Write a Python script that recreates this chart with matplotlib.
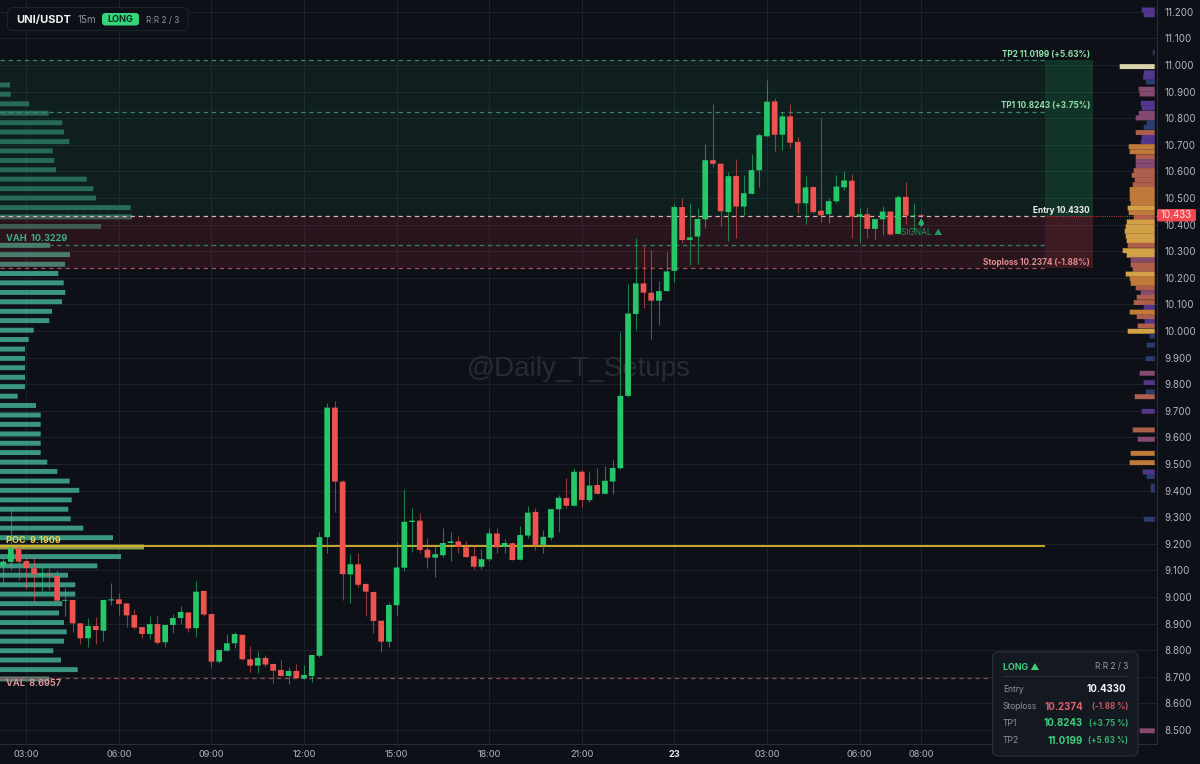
"""UNI/USDT 15m long setup with volume profiles on both sides."""
import matplotlib
matplotlib.use('Agg')
import matplotlib.pyplot as plt
from matplotlib.patches import FancyBboxPatch

# Levels
ENTRY = 10.4330
STOPLOSS = 10.2374
TP1 = 10.8243
TP2 = 11.0199
VAH = 10.3229
POC = 9.1909
VAL = 8.6957
LAST_PRICE = 10.433

# Candles, 15 minute bars. Time is hours since 00:00 on the first day
first_bar_hour = 2.25
bar_hours = 0.25
opens = [
    9.116, 9.132, 9.183, 9.135, 9.108, 9.081, 9.083, 9.079, 8.986, 8.989,
    8.901, 8.845, 8.891, 8.873, 8.987, 8.991, 8.976, 8.932, 8.887, 8.861,
    8.898, 8.830, 8.895, 8.921, 8.942, 8.883, 9.023, 8.936, 8.757, 8.798,
    8.826, 8.858, 8.766, 8.742, 8.771, 8.748, 8.726, 8.703, 8.722, 8.694,
    8.703, 8.779, 9.225, 9.712, 9.434, 9.085, 9.123, 9.049, 9.019, 8.911,
    8.832, 8.969, 9.110, 9.282, 9.287, 9.178, 9.148, 9.157, 9.203, 9.209,
    9.187, 9.153, 9.114, 9.142, 9.239, 9.188, 9.202, 9.140, 9.231, 9.320,
    9.196, 9.223, 9.330, 9.372, 9.343, 9.471, 9.364, 9.421, 9.388, 9.434,
    9.484, 9.756, 10.064, 10.179, 10.144, 10.114, 10.150, 10.226, 10.466, 10.342,
    10.355, 10.420, 10.642, 10.629, 10.447, 10.583, 10.468, 10.516, 10.604, 10.732,
    10.863, 10.738, 10.807, 10.711, 10.480, 10.541, 10.452, 10.439, 10.488, 10.540,
    10.565, 10.429, 10.439, 10.384, 10.420, 10.449, 10.365, 10.504, 10.432, 10.436,
]
highs = [
    9.152, 9.327, 9.202, 9.145, 9.145, 9.114, 9.108, 9.101, 9.033, 8.989,
    8.901, 8.920, 8.926, 8.989, 9.051, 9.014, 8.976, 8.954, 8.888, 8.929,
    8.929, 8.895, 8.936, 8.966, 8.942, 9.061, 9.023, 8.936, 8.801, 8.861,
    8.867, 8.858, 8.816, 8.798, 8.781, 8.751, 8.763, 8.738, 8.747, 8.746,
    8.782, 9.246, 9.728, 9.737, 9.440, 9.162, 9.167, 9.054, 9.019, 8.911,
    8.982, 9.208, 9.405, 9.333, 9.317, 9.221, 9.192, 9.258, 9.244, 9.229,
    9.209, 9.197, 9.182, 9.259, 9.258, 9.217, 9.208, 9.267, 9.342, 9.333,
    9.252, 9.330, 9.383, 9.446, 9.484, 9.477, 9.471, 9.486, 9.492, 9.515,
    9.996, 10.177, 10.348, 10.320, 10.305, 10.188, 10.298, 10.478, 10.499, 10.483,
    10.461, 10.702, 10.852, 10.629, 10.599, 10.645, 10.586, 10.665, 10.746, 10.944,
    10.875, 10.825, 10.852, 10.728, 10.584, 10.545, 10.799, 10.501, 10.586, 10.602,
    10.589, 10.461, 10.465, 10.421, 10.470, 10.449, 10.511, 10.561, 10.482, 10.442,
]
lows = [
    9.051, 9.101, 9.064, 9.029, 8.982, 9.023, 9.026, 8.986, 8.929, 8.870,
    8.822, 8.811, 8.823, 8.835, 8.970, 8.932, 8.886, 8.878, 8.845, 8.841,
    8.823, 8.813, 8.863, 8.898, 8.868, 8.851, 8.929, 8.738, 8.753, 8.798,
    8.807, 8.763, 8.717, 8.713, 8.736, 8.675, 8.703, 8.673, 8.695, 8.690,
    8.679, 8.773, 9.167, 9.321, 8.989, 8.976, 9.036, 8.929, 8.866, 8.794,
    8.811, 8.932, 9.099, 9.170, 9.167, 9.110, 9.074, 9.149, 9.137, 9.167,
    9.149, 9.104, 9.104, 9.137, 9.164, 9.164, 9.139, 9.139, 9.221, 9.177,
    9.167, 9.214, 9.244, 9.336, 9.343, 9.337, 9.358, 9.386, 9.388, 9.387,
    9.480, 9.753, 10.004, 10.085, 9.969, 10.023, 10.150, 10.186, 10.332, 10.248,
    10.252, 10.386, 10.615, 10.396, 10.338, 10.350, 10.436, 10.516, 10.543, 10.732,
    10.678, 10.680, 10.689, 10.442, 10.402, 10.445, 10.409, 10.405, 10.480, 10.530,
    10.348, 10.330, 10.351, 10.345, 10.361, 10.361, 10.365, 10.402, 10.377, 10.430,
]
closes = [
    9.133, 9.183, 9.133, 9.110, 9.086, 9.086, 9.080, 8.986, 8.989, 8.901,
    8.845, 8.891, 8.876, 8.989, 8.991, 8.974, 8.931, 8.885, 8.861, 8.898,
    8.828, 8.895, 8.921, 8.944, 8.882, 9.020, 8.934, 8.757, 8.801, 8.826,
    8.861, 8.766, 8.742, 8.771, 8.746, 8.723, 8.703, 8.722, 8.695, 8.707,
    8.782, 9.225, 9.712, 9.434, 9.086, 9.123, 9.046, 9.020, 8.910, 8.832,
    8.970, 9.111, 9.283, 9.287, 9.177, 9.148, 9.161, 9.203, 9.209, 9.188,
    9.150, 9.114, 9.142, 9.239, 9.187, 9.203, 9.139, 9.233, 9.317, 9.196,
    9.226, 9.330, 9.373, 9.343, 9.471, 9.365, 9.419, 9.388, 9.437, 9.485,
    9.756, 10.066, 10.179, 10.144, 10.114, 10.150, 10.224, 10.466, 10.342, 10.352,
    10.421, 10.642, 10.629, 10.450, 10.582, 10.468, 10.518, 10.605, 10.736, 10.862,
    10.738, 10.807, 10.708, 10.480, 10.540, 10.447, 10.435, 10.488, 10.543, 10.566,
    10.430, 10.439, 10.384, 10.421, 10.449, 10.363, 10.503, 10.434, 10.434, 10.433,
]

# Left volume profile (bin price, relative volume)
left_prices = [
    10.925, 10.890, 10.854, 10.819, 10.783, 10.748, 10.712, 10.677, 10.641, 10.606,
    10.571, 10.535, 10.500, 10.464, 10.429, 10.393, 10.358, 10.322, 10.287, 10.251,
    10.216, 10.181, 10.145, 10.110, 10.074, 10.039, 10.003, 9.968, 9.932, 9.897,
    9.862, 9.826, 9.791, 9.755, 9.720, 9.684, 9.649, 9.613, 9.578, 9.543,
    9.507, 9.472, 9.436, 9.401, 9.365, 9.330, 9.294, 9.259, 9.223, 9.188,
    9.152, 9.117, 9.082, 9.046, 9.011, 8.975, 8.940, 8.904, 8.869, 8.834,
    8.798, 8.763, 8.727, 8.692,
]
left_volumes = [
    10, 10.7, 29, 48.7, 62.3, 64, 69.3, 52.7, 54.3, 56,
    86.7, 93.3, 96, 130.7, 132, 101, 0, 50, 70, 65,
    58.3, 63.7, 65.3, 62, 52, 49.3, 33.7, 28.7, 25, 25,
    25, 25, 25, 17.7, 36, 40.7, 40.7, 40.7, 40.7, 40.7,
    47.3, 57.3, 69.7, 79.3, 71.7, 68.3, 70.7, 83.3, 113, 144,
    121, 97.3, 68, 75.3, 75.3, 62.3, 59, 64, 66.7, 64,
    53.3, 61, 77.7, 49.3,
]

# Right volume profile (bin price, relative volume, heat level)
right_prices = [
    11.207, 11.189, 11.046, 10.994, 10.971, 10.954, 10.936, 10.909, 10.891, 10.856,
    10.838, 10.818, 10.801, 10.783, 10.766, 10.746, 10.728, 10.710, 10.693, 10.674,
    10.655, 10.638, 10.620, 10.603, 10.585, 10.568, 10.550, 10.532, 10.515, 10.498,
    10.480, 10.462, 10.445, 10.427, 10.410, 10.392, 10.375, 10.357, 10.340, 10.322,
    10.302, 10.285, 10.267, 10.249, 10.232, 10.214, 10.197, 10.179, 10.162, 10.144,
    10.127, 10.107, 10.089, 10.071, 10.054, 10.036, 10.019, 9.999, 9.981, 9.947,
    9.896, 9.841, 9.806, 9.771, 9.753, 9.698, 9.628, 9.593, 9.540, 9.505,
    9.470, 9.453, 9.417, 9.402, 9.292, 8.497,
]
right_volumes = [
    13, 11, 2, 35, 11, 11.5, 9, 16, 15, 14,
    13, 16, 19, 8, 11, 19, 13, 14, 26, 25,
    19, 19, 19, 21, 23, 20, 22, 25, 25, 25,
    24, 27, 26, 21, 28, 29, 30, 29, 28, 27,
    32, 28, 24, 24, 22, 29, 25, 24, 19, 14,
    18, 21, 11, 25, 18, 10, 17, 27, 5, 8,
    9, 15, 11, 9, 20, 13, 22, 17, 24, 25,
    12, 8, 4, 4, 11, 15,
]
right_heat = [
    1, 1, 0, 6, 1, 1, 0, 2, 2, 1,
    1, 2, 2, 0, 0, 3, 1, 1, 4, 4,
    3, 2, 2, 3, 3, 3, 3, 4, 4, 4,
    4, 5, 4, 3, 5, 5, 5, 5, 5, 3,
    5, 5, 2, 3, 3, 5, 4, 4, 3, 2,
    3, 3, 1, 4, 3, 1, 3, 5, 0, 0,
    0, 2, 1, 0, 3, 1, 3, 2, 4, 4,
    1, 0, 0, 0, 0, 2,
]

# Axis ticks
time_ticks = [3, 6, 9, 12, 15, 18, 21, 24, 27, 30, 32]
time_labels = ['03:00', '06:00', '09:00', '12:00', '15:00', '18:00', '21:00', '23',
               '03:00', '06:00', '08:00']
price_ticks = [8.5 + i / 10 for i in range(28)]

# Colours
BG = '#0d1017'
GRID = '#1d212a'
UP = '#26c768'
DOWN = '#ef5350'
HEAT_COLORS = ['#2b3d6e', '#52378c', '#864a70', '#ae5f4c', '#c07a3a', '#d2a046', '#d9d3ab']

WIDTH, HEIGHT = 1200, 764
AXIS_RIGHT, AXIS_BOTTOM = 1157, 744
HOUR_PX = 30.86
HOUR_LEFT = 3 - 26.3 / HOUR_PX
HOUR_RIGHT = 3 + (AXIS_RIGHT - 26.3) / HOUR_PX
PRICE_TOP = 10 + 331 / 266
PRICE_BOTTOM = 10 - (AXIS_BOTTOM - 331) / 266
LEVEL_END = 36       # level lines stop here
ZONE_END = 37.56     # zones stop here

plt.rcParams['font.family'] = ['Inter', 'DejaVu Sans']

fig = plt.figure(figsize=(12, 7.64), dpi=100, facecolor=BG)
pos = [0, (HEIGHT - AXIS_BOTTOM) / HEIGHT, AXIS_RIGHT / WIDTH, AXIS_BOTTOM / HEIGHT]

# Bottom layer: grid, spines and tick labels
ax_base = fig.add_axes(pos, zorder=0, facecolor=BG)
ax_base.set_xlim(HOUR_LEFT, HOUR_RIGHT)
ax_base.set_ylim(PRICE_BOTTOM, PRICE_TOP)
ax_base.grid(True, color=GRID, linewidth=0.8)
ax_base.set_axisbelow(True)
for side in ['top', 'left']:
    ax_base.spines[side].set_visible(False)
for side in ['bottom', 'right']:
    ax_base.spines[side].set_color('#2a2e37')
    ax_base.spines[side].set_linewidth(0.8)
ax_base.yaxis.tick_right()
ax_base.set_yticks(price_ticks)
ax_base.set_yticklabels([f'{p:.3f}' for p in price_ticks])
ax_base.set_xticks(time_ticks)
ax_base.set_xticklabels(time_labels)
ax_base.tick_params(axis='y', length=0, pad=5.5, labelsize=7, labelcolor='#b4b7be')
ax_base.tick_params(axis='x', length=0, pad=4, labelsize=6.6, labelcolor='#b4b7be')
for label in ax_base.get_xticklabels():
    if label.get_text() == '23':
        label.set_fontweight('bold')
        label.set_color('#e6e8ec')

# Profiles sit above the grid and below the price layer
ax_left = fig.add_axes(pos, zorder=1)
ax_left.set_xlim(0, AXIS_RIGHT)
ax_left.set_ylim(PRICE_BOTTOM, PRICE_TOP)
ax_left.axis('off')
left_colors = []
for p in left_prices:
    if p == 9.188:
        left_colors.append('#8f9c4e')
    elif p == 8.692:
        left_colors.append('#5f7d72')
    elif p > VAH + 0.02:
        left_colors.append('#2a6b5b')
    else:
        left_colors.append('#3b9681')
ax_left.barh(left_prices, left_volumes, height=0.0185, color=left_colors, linewidth=0, snap=False)

ax_right = fig.add_axes(pos, zorder=1)
ax_right.set_xlim(1154.7, -2.3)
ax_right.set_ylim(PRICE_BOTTOM, PRICE_TOP)
ax_right.axis('off')
ax_right.barh(right_prices, right_volumes, height=0.0185, snap=False,
              color=[HEAT_COLORS[h] for h in right_heat], linewidth=0)

# Price layer
ax = fig.add_axes(pos, zorder=2)
ax.set_xlim(HOUR_LEFT, HOUR_RIGHT)
ax.set_ylim(PRICE_BOTTOM, PRICE_TOP)
ax.axis('off')

# Target and risk zones
ax.fill_between([HOUR_LEFT, LEVEL_END], ENTRY, TP2, color='#1c6a44', alpha=0.17, lw=0, zorder=1)
ax.fill_between([LEVEL_END, ZONE_END], ENTRY, TP2, color='#1f8a50', alpha=0.30, lw=0, zorder=1)
ax.fill_between([HOUR_LEFT, LEVEL_END], STOPLOSS, ENTRY, color='#8a2a35', alpha=0.22, lw=0, zorder=1)
ax.fill_between([LEVEL_END, ZONE_END], STOPLOSS, ENTRY, color='#a8343c', alpha=0.32, lw=0, zorder=1)

# Level lines
dash = (0, (3.5, 3))
ax.hlines(TP2, HOUR_LEFT, LEVEL_END, color='#36896a', lw=0.9, linestyles=dash, zorder=2)
ax.hlines(TP1, HOUR_LEFT, LEVEL_END, color='#36896a', lw=0.9, linestyles=dash, zorder=2)
ax.hlines(VAH, HOUR_LEFT, LEVEL_END, color='#367f69', lw=0.9, linestyles=dash, zorder=2)
ax.hlines(ENTRY, HOUR_LEFT, LEVEL_END, color='#d8b4b4', lw=0.9, linestyles=dash, zorder=2)
ax.hlines(STOPLOSS, HOUR_LEFT, LEVEL_END, color='#ad4c57', lw=0.9, linestyles=dash, zorder=2)
ax.hlines(VAL, HOUR_LEFT, LEVEL_END, color='#8f4a54', lw=0.9, linestyles=dash, zorder=2)
ax.hlines(POC, HOUR_LEFT, LEVEL_END, color='#d9b62c', lw=1.3, zorder=2)
ax.hlines(LAST_PRICE, ZONE_END - 1.5, HOUR_RIGHT, color='#ef5350', lw=0.6, linestyles=':', zorder=2)

# Candles
bar_times = [first_bar_hour + i * bar_hours for i in range(len(opens))]
for t, o, h, l, c in zip(bar_times, opens, highs, lows, closes):
    color = UP if c >= o else DOWN
    ax.vlines(t, l, h, color=color, lw=0.8, alpha=0.6, zorder=3)
    ax.bar(t, abs(c - o), bottom=min(o, c), width=bar_hours * 0.74, color=color,
           linewidth=0, zorder=4, snap=False)


def level_label(price, text, color, offset=1):
    """Right aligned label just above the end of a zone."""
    ax.annotate(text, (ZONE_END, price), xytext=(-3, offset), textcoords='offset pixels',
                ha='right', va='bottom', fontsize=5.95, fontweight='bold', color=color, zorder=6)


def left_label(price, text, color, offset):
    ax.annotate(text, (HOUR_LEFT, price), xytext=(6, offset), textcoords='offset pixels',
                ha='left', va='center', fontsize=6.6, fontweight='bold', color=color, zorder=6)


level_label(TP2, f'TP2 {TP2:.4f} (+5.63%)', '#8fe0a8')
level_label(TP1, f'TP1 {TP1:.4f} (+3.75%)', '#8fe0a8', 2)
level_label(ENTRY, f'Entry {ENTRY:.4f}', '#f0f0f0')
level_label(STOPLOSS, f'Stoploss {STOPLOSS:.4f} (-1.88%)', '#e08c8c')
left_label(VAH, f'VAH  {VAH:.4f}', '#3fae88', 7)
left_label(POC, f'POC  {POC:.4f}', '#e8d24a', 6)
left_label(VAL, f'VAL  {VAL:.4f}', '#d89494', -6)

# Signal marker on the last bar
ax.annotate('', (bar_times[-1], 10.425), xytext=(bar_times[-1], 10.395),
            arrowprops=dict(arrowstyle='-|>', color='#22b866', lw=1.4, mutation_scale=7,
                            shrinkA=0, shrinkB=0), zorder=6)
ax.annotate('SIGNAL \u25b2', (bar_times[-1], 10.372), xytext=(-20, 0), textcoords='offset pixels',
            ha='left', va='center', fontsize=6, color='#1f9c5c', zorder=6)

# Watermark
ax.text(0.5004, 0.5035, '@Daily_T_Setups', transform=ax.transAxes, ha='center', va='center',
        family='Liberation Sans', fontsize=20, color='#272b34', zorder=2)

# Panels, placed in pixels
ui = fig.add_axes([0, 0, 1, 1], zorder=5)
ui.set_xlim(0, WIDTH)
ui.set_ylim(HEIGHT, 0)
ui.axis('off')


def panel(x0, y0, x1, y1, face, edge, radius=5):
    ui.add_patch(FancyBboxPatch((x0 + radius, y0 + radius), x1 - x0 - 2 * radius, y1 - y0 - 2 * radius,
                                boxstyle=f'round,pad={radius},rounding_size={radius}',
                                fc=face, ec=edge, lw=0.8))


# Current price tag
panel(1157, 209, 1196, 221.5, '#ef4a52', 'none', radius=2)
ui.text(1176.5, 215.5, f'{LAST_PRICE:.3f}', fontsize=7, color='#ffe3e3', ha='center', va='center')

panel(7.5, 7.5, 188, 30.5, BG, '#1f232c')
ui.text(16.5, 20, 'UNI/USDT', fontsize=8, fontweight='bold', color='#f0f1f3', va='center')
ui.text(78, 20, '15m', fontsize=7, color='#8f939b', va='center')
panel(102, 13, 139, 25.5, '#34d57a', 'none', radius=3.5)
ui.text(120.5, 19.7, 'LONG', fontsize=6.5, fontweight='bold', color='#0b2a1a', ha='center', va='center')
ui.text(146, 20, 'R:R 2 / 3', fontsize=6, color='#8f939b', va='center')

panel(992.5, 652, 1138, 756, '#141921', '#2a2f39', radius=6)
ui.text(1003, 667, 'LONG \u25b2', fontsize=6.4, fontweight='bold', color='#3ecf7e', va='center')
ui.text(1128, 667, 'R:R 2 / 3', fontsize=6, color='#9a9ea6', va='center', ha='right')
ui.plot([1002, 1128], [676, 676], color='#262b35', lw=0.8)

rows = [
    ('Entry', 689.5, f'{ENTRY:.4f}', '#f4f5f6', '', '#f4f5f6'),
    ('Stoploss', 706.5, f'{STOPLOSS:.4f}', '#e0606a', '(-1.88 %)', '#c9555f'),
    ('TP1', 723.5, f'{TP1:.4f}', '#3ecf7e', '(+3.75 %)', '#37b06c'),
    ('TP2', 740.5, f'{TP2:.4f}', '#3ecf7e', '(+5.63 %)', '#37b06c'),
]
for name, y, value, value_color, pct, pct_color in rows:
    ui.text(1003, y, name, fontsize=6.1, color='#8e929a', va='center')
    if pct:
        ui.text(1083, y, value, fontsize=7, fontweight='bold', color=value_color, va='center', ha='right')
        ui.text(1128, y, pct, fontsize=5.8, fontweight='bold', color=pct_color, va='center', ha='right')
    else:
        ui.text(1126, y, value, fontsize=7, fontweight='bold', color=value_color, va='center', ha='right')

fig.savefig('out.png', dpi=100, facecolor=BG)
